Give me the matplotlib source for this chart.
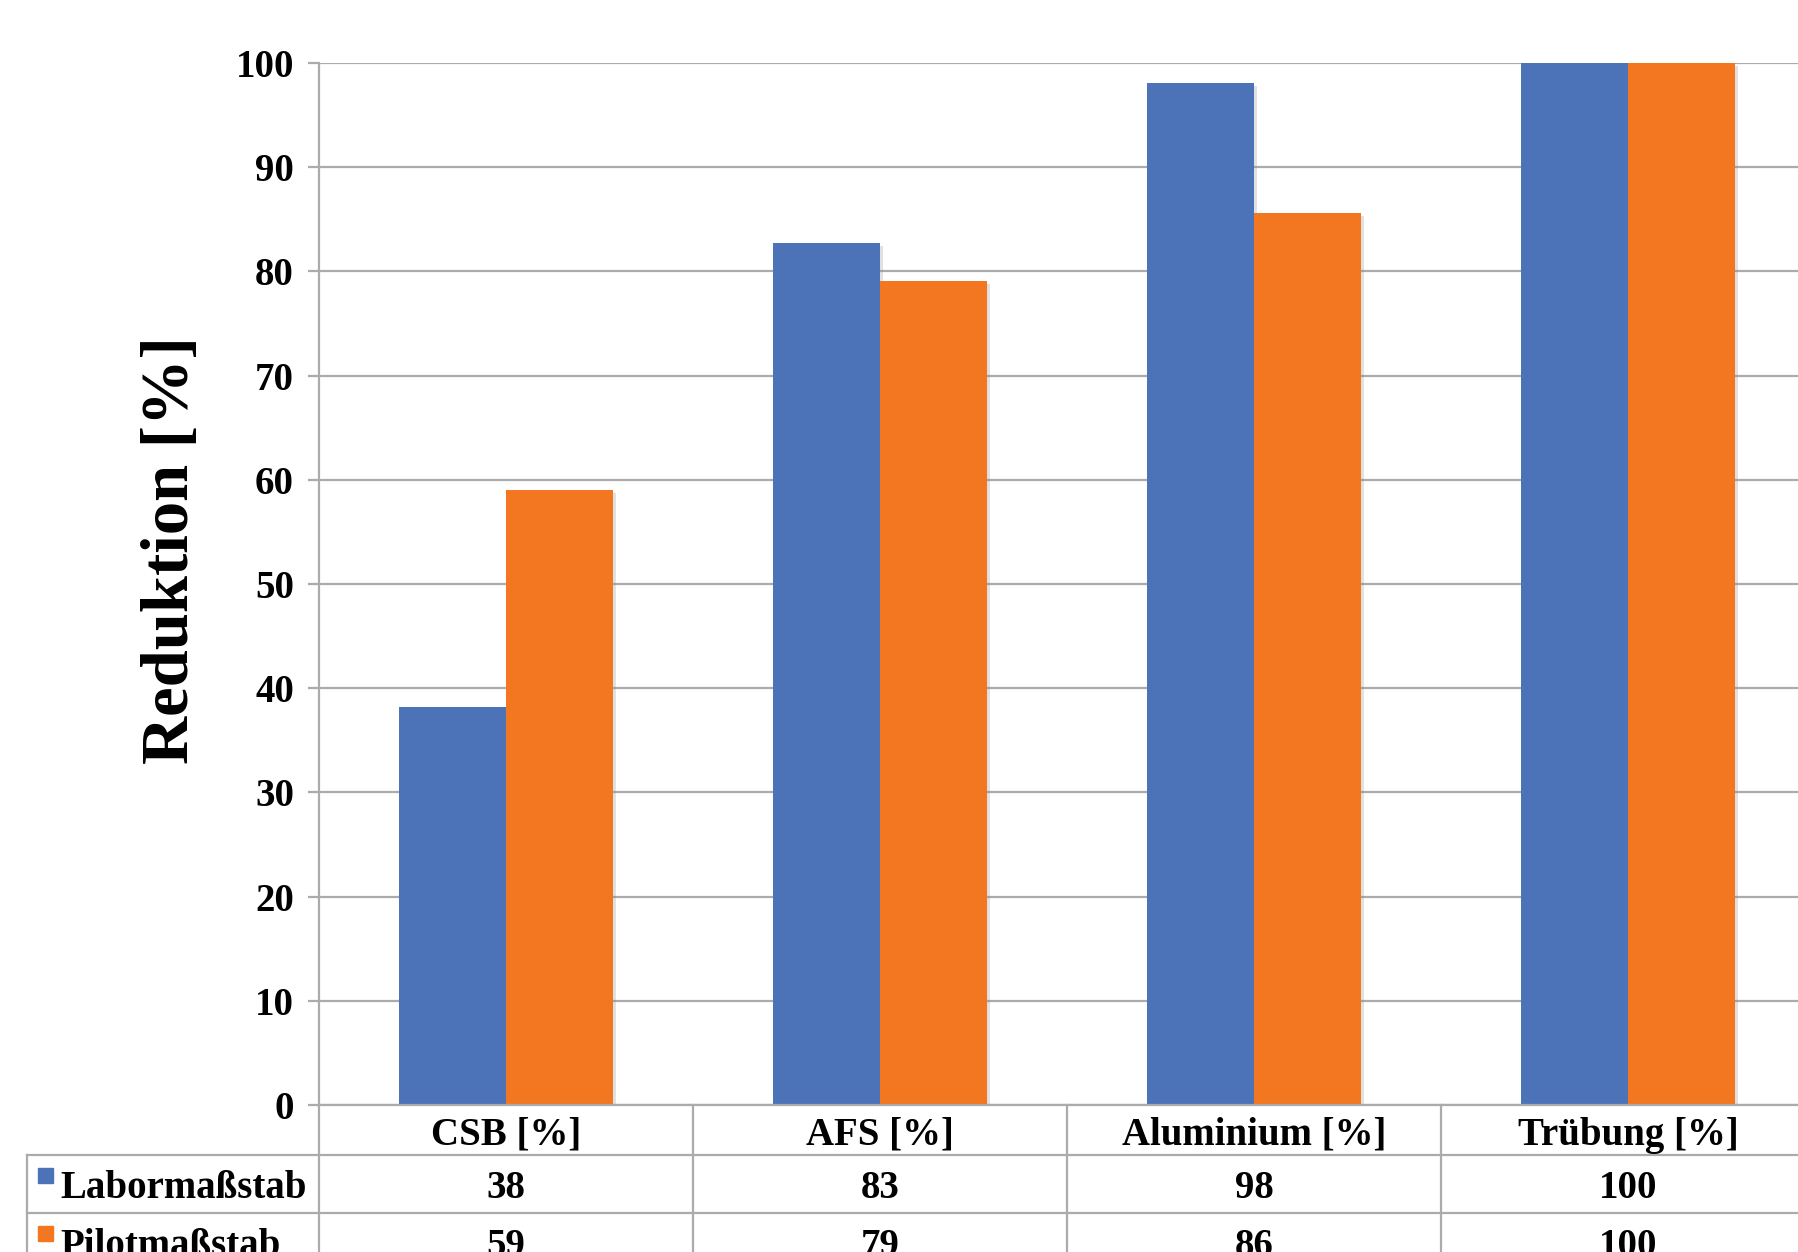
import matplotlib
matplotlib.use("Agg")
import matplotlib.pyplot as plt
import matplotlib.transforms as mtransforms
from matplotlib.lines import Line2D
from matplotlib.patches import Rectangle
import matplotlib.patheffects as pe

categories = ["CSB [%]", "AFS [%]", "Aluminium [%]", "Trübung [%]"]
series_names = ["Labormaßstab", "Pilotmaßstab"]
labor = [38.2, 82.7, 98.1, 100]
pilot = [59.0, 79.1, 85.6, 100]
yticks = [0, 10, 20, 30, 40, 50, 60, 70, 80, 90, 100]

colors = ["#4C73B7", "#F37720"]
grid_c = "#ABABAB"
W, H = 1799, 1252

plt.rcParams['font.family'] = ['Liberation Serif', 'DejaVu Serif']
plt.rcParams['font.weight'] = 'bold'

fig = plt.figure(figsize=(W / 100, H / 100), dpi=100)

def fx(x):
    return x / W

def fy(y):
    return 1 - y / H

ax_l, ax_r, ax_t, ax_b = 319, 1815, 63, 1105
ax = fig.add_axes([fx(ax_l), fy(ax_b), (ax_r - ax_l) / W, (ax_b - ax_t) / H])

n = len(categories)
xs = list(range(n))
bw = 0.286
shadow = [pe.SimplePatchShadow(offset=(2, -2), shadow_rgbFace='#888888', alpha=0.25), pe.Normal()]
for i, (vals, name) in enumerate(zip([labor, pilot], series_names)):
    off = -bw / 2 if i == 0 else bw / 2
    bars = ax.bar([x + off for x in xs], vals, width=bw, color=colors[i], zorder=3, label=name)
    for b in bars:
        b.set_path_effects(shadow)

ax.set_xlim(-0.5, n - 0.5)
ax.set_ylim(0, 100)
ax.set_yticks(yticks)
ax.set_yticklabels([str(t) for t in yticks], fontsize=28, fontweight='bold')
ax.set_xticks([])
ax.yaxis.grid(True, color=grid_c, linewidth=1.6, zorder=0)
ax.set_axisbelow(True)
for s in ['top', 'right', 'bottom']:
    ax.spines[s].set_visible(False)
ax.spines['left'].set_color(grid_c)
ax.spines['left'].set_linewidth(1.6)
ax.tick_params(axis='y', length=8, width=1.6, color=grid_c, pad=10)

fig.text(fx(172), fy(550), "Reduktion [%]", rotation=90, ha='center', va='center',
         fontsize=48, fontweight='bold')

# data table
blend = mtransforms.blended_transform_factory(ax.transData, fig.transFigure)
lw = 1.6
def fline(x0, y0, x1, y1):
    fig.add_artist(Line2D([fx(x0), fx(x1)], [fy(y0), fy(y1)], color=grid_c, linewidth=lw,
                          transform=fig.transFigure))

row_tops = [1105, 1155, 1213, 1271]
dy = 5
fline(ax_l, 1105, W + 20, 1105)
fline(27, 1155, W + 20, 1155)
fline(27, 1213, W + 20, 1213)
fline(ax_l, 1105, ax_l, H + 10)
fline(27, 1155, 27, H + 10)
for b in [x + 0.5 for x in xs[:-1]]:
    fig.add_artist(Line2D([b, b], [fy(1105), fy(H + 10)], color=grid_c, linewidth=lw,
                          transform=blend))

for x, c in zip(xs, categories):
    fig.text(x, fy((row_tops[0] + row_tops[1]) / 2 + dy), c, transform=blend, ha='center',
             va='center', fontsize=28, fontweight='bold')
for r, (vals, name) in enumerate(zip([labor, pilot], series_names)):
    yc = (row_tops[r + 1] + row_tops[r + 2]) / 2
    for x, v in zip(xs, vals):
        fig.text(x, fy(yc + dy), f"{v:.0f}", transform=blend, ha='center', va='center',
                 fontsize=28, fontweight='bold')
    fig.text(fx(60), fy(yc + dy), name, ha='left', va='center', fontsize=28, fontweight='bold')
    fig.add_artist(Rectangle((fx(38), fy(yc - 1)), 15 / W, 15 / H, color=colors[r],
                             transform=fig.transFigure))

fig.savefig("out.png", dpi=100)
